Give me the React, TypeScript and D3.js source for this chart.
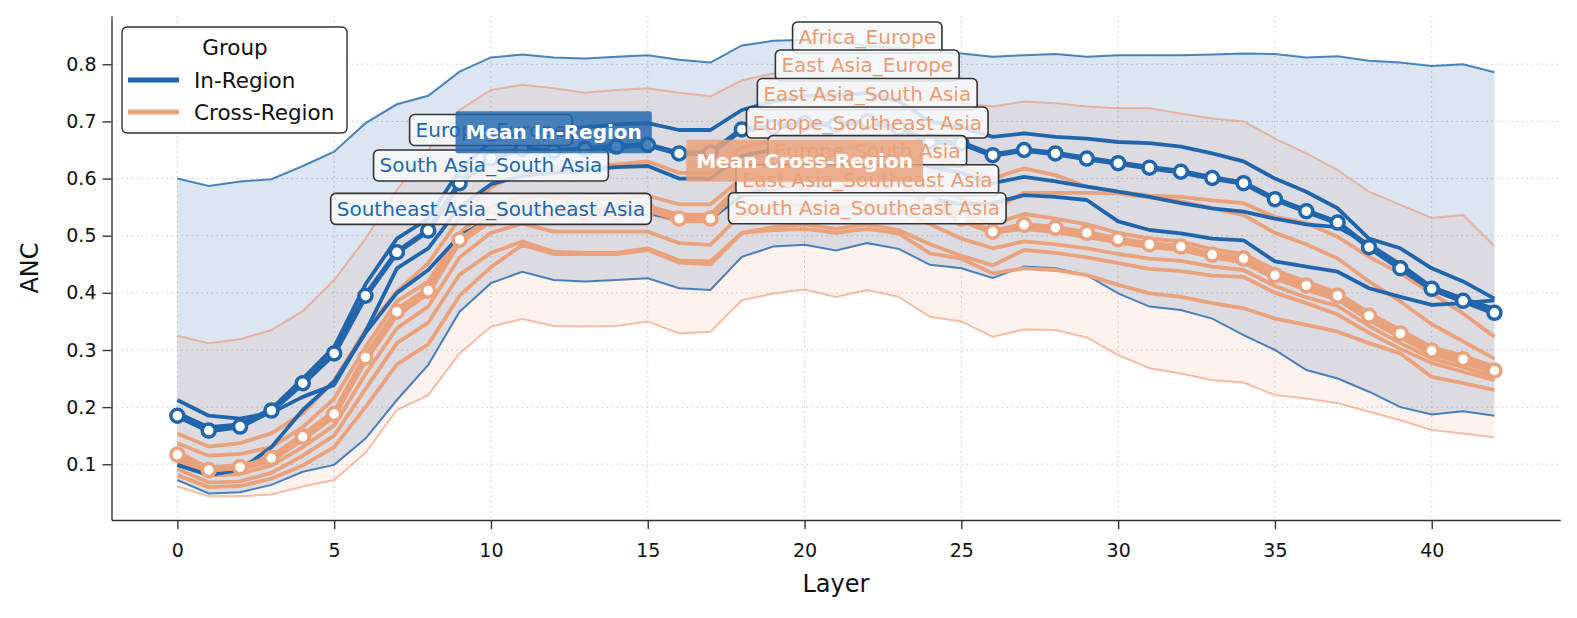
import React, { useRef, useEffect } from 'react';
import * as d3 from 'd3';

// layer index on the x axis
const layers = [0, 1, 2, 3, 4, 5, 6, 7, 8, 9, 10, 11, 12, 13, 14, 15, 16, 17, 18, 19, 20, 21, 22, 23, 24, 25, 26, 27, 28, 29, 30, 31, 32, 33, 34, 35, 36, 37, 38, 39, 40, 41, 42];

const xTicks = [0, 5, 10, 15, 20, 25, 30, 35, 40];
const yTicks = [0.1, 0.2, 0.3, 0.4, 0.5, 0.6, 0.7, 0.8];

// group means
const meanIn = [0.185, 0.159, 0.166, 0.194, 0.242, 0.294, 0.395, 0.471, 0.509, 0.592, 0.635, 0.652, 0.648, 0.652, 0.656, 0.659, 0.644, 0.645, 0.686, 0.690, 0.697, 0.694, 0.700, 0.688, 0.665, 0.662, 0.641, 0.650, 0.644, 0.635, 0.627, 0.619, 0.612, 0.601, 0.592, 0.564, 0.543, 0.523, 0.480, 0.443, 0.407, 0.386, 0.365];
const meanCross = [0.117, 0.090, 0.095, 0.111, 0.148, 0.188, 0.287, 0.367, 0.404, 0.493, 0.530, 0.548, 0.543, 0.540, 0.540, 0.545, 0.530, 0.530, 0.585, 0.590, 0.592, 0.590, 0.595, 0.586, 0.560, 0.530, 0.507, 0.519, 0.514, 0.505, 0.494, 0.485, 0.481, 0.467, 0.460, 0.431, 0.413, 0.395, 0.360, 0.329, 0.299, 0.284, 0.264];

// band edges
const inUpper = [0.600, 0.587, 0.595, 0.599, 0.622, 0.647, 0.697, 0.730, 0.745, 0.787, 0.812, 0.817, 0.812, 0.810, 0.813, 0.816, 0.808, 0.803, 0.833, 0.841, 0.843, 0.840, 0.832, 0.828, 0.823, 0.819, 0.813, 0.816, 0.818, 0.813, 0.816, 0.816, 0.816, 0.817, 0.819, 0.818, 0.812, 0.814, 0.806, 0.803, 0.797, 0.800, 0.786];
const inLower = [0.0725, 0.049, 0.051, 0.064, 0.087, 0.099, 0.145, 0.2125, 0.274, 0.367, 0.417, 0.437, 0.4225, 0.420, 0.4225, 0.4255, 0.408, 0.405, 0.463, 0.481, 0.484, 0.474, 0.487, 0.477, 0.449, 0.443, 0.426, 0.446, 0.443, 0.431, 0.399, 0.376, 0.370, 0.355, 0.326, 0.300, 0.265, 0.250, 0.227, 0.200, 0.187, 0.193, 0.185];
const crossUpper = [0.325, 0.312, 0.319, 0.335, 0.368, 0.4225, 0.495, 0.580, 0.650, 0.720, 0.755, 0.764, 0.758, 0.750, 0.755, 0.758, 0.750, 0.744, 0.772, 0.784, 0.785, 0.790, 0.785, 0.770, 0.750, 0.732, 0.726, 0.735, 0.732, 0.726, 0.723, 0.723, 0.714, 0.705, 0.700, 0.670, 0.644, 0.615, 0.577, 0.554, 0.531, 0.536, 0.482];
const crossLower = [0.061, 0.044, 0.044, 0.047, 0.061, 0.0725, 0.120, 0.195, 0.221, 0.294, 0.341, 0.354, 0.342, 0.341, 0.342, 0.350, 0.329, 0.332, 0.387, 0.399, 0.406, 0.393, 0.405, 0.393, 0.358, 0.350, 0.323, 0.336, 0.335, 0.322, 0.291, 0.268, 0.259, 0.247, 0.243, 0.221, 0.215, 0.207, 0.192, 0.177, 0.160, 0.154, 0.147];

// in-region pairs
const europeEurope = [0.190, 0.165, 0.170, 0.197, 0.250, 0.305, 0.415, 0.495, 0.530, 0.615, 0.665, 0.685, 0.685, 0.690, 0.695, 0.697, 0.685, 0.685, 0.720, 0.735, 0.745, 0.745, 0.750, 0.735, 0.700, 0.690, 0.673, 0.679, 0.673, 0.670, 0.664, 0.662, 0.656, 0.644, 0.630, 0.600, 0.577, 0.548, 0.495, 0.478, 0.443, 0.420, 0.390];
const southAsiaSouthAsia = [0.2125, 0.185, 0.180, 0.190, 0.218, 0.239, 0.332, 0.443, 0.478, 0.550, 0.590, 0.605, 0.610, 0.615, 0.620, 0.622, 0.600, 0.600, 0.640, 0.650, 0.655, 0.650, 0.660, 0.645, 0.620, 0.610, 0.592, 0.603, 0.595, 0.586, 0.577, 0.568, 0.557, 0.548, 0.542, 0.530, 0.520, 0.515, 0.485, 0.450, 0.410, 0.390, 0.372];
const seAsiaSeAsia = [0.099, 0.081, 0.090, 0.130, 0.195, 0.245, 0.330, 0.400, 0.440, 0.500, 0.530, 0.545, 0.540, 0.538, 0.538, 0.540, 0.530, 0.530, 0.570, 0.585, 0.590, 0.585, 0.595, 0.585, 0.565, 0.555, 0.557, 0.571, 0.568, 0.5625, 0.525, 0.510, 0.504, 0.495, 0.492, 0.455, 0.446, 0.437, 0.408, 0.393, 0.379, 0.382, 0.387];

// cross-region pairs
const africaEurope = [0.154, 0.131, 0.137, 0.154, 0.189, 0.247, 0.335, 0.402, 0.452, 0.530, 0.585, 0.610, 0.615, 0.620, 0.625, 0.630, 0.610, 0.610, 0.655, 0.665, 0.670, 0.665, 0.675, 0.665, 0.640, 0.620, 0.600, 0.618, 0.606, 0.586, 0.577, 0.570, 0.568, 0.562, 0.557, 0.533, 0.522, 0.498, 0.463, 0.434, 0.399, 0.364, 0.323];
const eastAsiaEurope = [0.137, 0.115, 0.118, 0.130, 0.165, 0.215, 0.305, 0.385, 0.420, 0.505, 0.550, 0.570, 0.568, 0.565, 0.565, 0.570, 0.555, 0.555, 0.600, 0.610, 0.615, 0.610, 0.620, 0.610, 0.585, 0.565, 0.545, 0.575, 0.575, 0.575, 0.574, 0.567, 0.560, 0.548, 0.536, 0.505, 0.485, 0.460, 0.420, 0.385, 0.345, 0.315, 0.285];
const eastAsiaSouthAsia = [0.122, 0.094, 0.099, 0.115, 0.152, 0.193, 0.292, 0.372, 0.408, 0.497, 0.535, 0.555, 0.550, 0.548, 0.548, 0.552, 0.537, 0.537, 0.592, 0.597, 0.600, 0.597, 0.602, 0.592, 0.567, 0.540, 0.520, 0.538, 0.530, 0.520, 0.505, 0.495, 0.490, 0.476, 0.468, 0.440, 0.420, 0.400, 0.365, 0.335, 0.305, 0.290, 0.271];
const europeSeAsia = [0.112, 0.086, 0.090, 0.106, 0.143, 0.183, 0.280, 0.360, 0.398, 0.487, 0.525, 0.545, 0.538, 0.535, 0.535, 0.540, 0.525, 0.525, 0.580, 0.585, 0.588, 0.585, 0.590, 0.580, 0.555, 0.525, 0.505, 0.512, 0.506, 0.498, 0.488, 0.480, 0.475, 0.462, 0.453, 0.425, 0.405, 0.388, 0.352, 0.322, 0.292, 0.278, 0.260];
const europeSouthAsia = [0.105, 0.080, 0.083, 0.098, 0.130, 0.168, 0.258, 0.338, 0.376, 0.462, 0.505, 0.521, 0.507, 0.507, 0.507, 0.507, 0.487, 0.484, 0.539, 0.550, 0.555, 0.548, 0.555, 0.545, 0.520, 0.495, 0.478, 0.490, 0.485, 0.478, 0.468, 0.460, 0.456, 0.446, 0.440, 0.412, 0.392, 0.377, 0.342, 0.312, 0.285, 0.270, 0.253];
const eastAsiaSeAsia = [0.092, 0.068, 0.070, 0.085, 0.115, 0.150, 0.232, 0.312, 0.348, 0.432, 0.470, 0.490, 0.472, 0.470, 0.470, 0.478, 0.457, 0.455, 0.505, 0.515, 0.520, 0.512, 0.520, 0.510, 0.485, 0.465, 0.448, 0.475, 0.470, 0.462, 0.452, 0.442, 0.438, 0.430, 0.428, 0.400, 0.382, 0.362, 0.330, 0.302, 0.277, 0.262, 0.247];
const southAsiaSeAsia = [0.081, 0.060, 0.062, 0.075, 0.098, 0.130, 0.200, 0.275, 0.310, 0.395, 0.445, 0.484, 0.468, 0.468, 0.468, 0.475, 0.453, 0.450, 0.505, 0.510, 0.512, 0.505, 0.512, 0.504, 0.469, 0.460, 0.434, 0.443, 0.440, 0.431, 0.414, 0.399, 0.393, 0.382, 0.373, 0.355, 0.344, 0.332, 0.312, 0.294, 0.253, 0.242, 0.230];

const inNames = ['Europe_Europe', 'South Asia_South Asia', 'Southeast Asia_Southeast Asia'];
const inSeries = [europeEurope, southAsiaSouthAsia, seAsiaSeAsia];
const crossNames = ['Africa_Europe', 'East Asia_Europe', 'East Asia_South Asia', 'Europe_Southeast Asia', 'Europe_South Asia', 'East Asia_Southeast Asia', 'South Asia_Southeast Asia'];
const crossSeries = [africaEurope, eastAsiaEurope, eastAsiaSouthAsia, europeSeAsia, europeSouthAsia, eastAsiaSeAsia, southAsiaSeAsia];

// annotation anchors (layer, ANC)
const inLabelLayer = 10;
const inLabelValues = [0.685, 0.623, 0.547];
const crossLabelLayer = 22;
const crossLabelValues = [0.847, 0.798, 0.748, 0.698, 0.648, 0.597, 0.548];
const meanInLabelAt = [12, 0.681];
const meanCrossLabelAt = [20, 0.631];

const BLUE = '#2166ac';
const ORANGE = '#ef8a62';
const ORANGE_LINE = '#e9a27c';
const ORANGE_TEXT = '#eb9b72';
const FONT = 'DejaVu Sans, sans-serif';

const W = 1577;
const H = 618;

const LayerChart: React.FC = () => {
  const svgRef = useRef<SVGSVGElement | null>(null);

  useEffect(() => {
    if (!svgRef.current) return;
    const svg = d3.select(svgRef.current);
    svg.selectAll('*').remove();

    const x = d3.scaleLinear().domain([-2.1, 44.1]).range([111.5, 1560.3]);
    const y = d3.scaleLinear().domain([0.0025, 0.8845]).range([520, 16]);
    const [yBottom, yTop] = y.range();
    const [xLeft, xRight] = x.range();

    // grid
    const grid = svg.append('g');
    xTicks.forEach((t) => {
      grid.append('line')
        .attr('x1', x(t)).attr('x2', x(t)).attr('y1', yTop).attr('y2', yBottom)
        .attr('stroke', '#c8c8c8').attr('stroke-width', 1).attr('stroke-dasharray', '1.5,3.5');
    });
    yTicks.forEach((t) => {
      grid.append('line')
        .attr('x1', xLeft).attr('x2', xRight).attr('y1', y(t)).attr('y2', y(t))
        .attr('stroke', '#c8c8c8').attr('stroke-width', 1).attr('stroke-dasharray', '1.5,3.5');
    });

    const band = (lo: number[], hi: number[]) =>
      d3.area<number>()
        .x((d) => x(d))
        .y0((_, i) => y(lo[i]))
        .y1((_, i) => y(hi[i]))(layers);

    const line = d3.line<number>()
      .x((_, i) => x(layers[i]))
      .y((d) => y(d));

    // bands
    svg.append('path').attr('d', band(inLower, inUpper)).attr('fill', BLUE).attr('fill-opacity', 0.16);
    svg.append('path').attr('d', band(crossLower, crossUpper)).attr('fill', ORANGE).attr('fill-opacity', 0.11);

    [inUpper, inLower].forEach((s) => {
      svg.append('path').attr('d', line(s)).attr('fill', 'none')
        .attr('stroke', BLUE).attr('stroke-opacity', 0.8).attr('stroke-width', 2);
    });
    [crossUpper, crossLower].forEach((s) => {
      svg.append('path').attr('d', line(s)).attr('fill', 'none')
        .attr('stroke', ORANGE).attr('stroke-opacity', 0.55).attr('stroke-width', 2);
    });

    // individual pairs
    crossSeries.forEach((s) => {
      svg.append('path').attr('d', line(s)).attr('fill', 'none')
        .attr('stroke', ORANGE_LINE).attr('stroke-width', 3.8).attr('stroke-linejoin', 'round');
    });
    inSeries.forEach((s) => {
      svg.append('path').attr('d', line(s)).attr('fill', 'none')
        .attr('stroke', BLUE).attr('stroke-width', 3.8).attr('stroke-linejoin', 'round');
    });

    // means with markers
    const drawMean = (s: number[], color: string) => {
      svg.append('path').attr('d', line(s)).attr('fill', 'none')
        .attr('stroke', color).attr('stroke-width', 5.5).attr('stroke-linejoin', 'round');
      svg.append('g').selectAll('circle').data(s).join('circle')
        .attr('cx', (_, i) => x(layers[i]))
        .attr('cy', (d) => y(d))
        .attr('r', 6.5)
        .attr('fill', 'white')
        .attr('stroke', color)
        .attr('stroke-width', 3.5);
    };
    drawMean(meanCross, ORANGE_LINE);
    drawMean(meanIn, BLUE);

    // axes
    const xAxis = d3.axisBottom(x).tickValues(xTicks).tickSize(9).tickPadding(15).tickSizeOuter(0);
    const yAxis = d3.axisLeft(y).tickValues(yTicks).tickSize(9).tickPadding(6).tickSizeOuter(0)
      .tickFormat(d3.format('.1f'));

    const styleAxis = (g: d3.Selection<SVGGElement, unknown, null, undefined>) => {
      g.attr('font-family', FONT).attr('font-size', 19);
      g.select('.domain').attr('stroke', '#333').attr('stroke-width', 1.4);
      g.selectAll('.tick line').attr('stroke', '#333').attr('stroke-width', 1.4);
      g.selectAll('.tick text').attr('fill', '#111');
    };

    svg.append('g').attr('transform', `translate(0,${yBottom})`).call(xAxis).call(styleAxis);
    svg.append('g').attr('transform', `translate(${xLeft},0)`).call(yAxis).call(styleAxis);

    svg.append('text')
      .attr('x', (xLeft + xRight) / 2).attr('y', 592)
      .attr('text-anchor', 'middle').attr('font-family', FONT).attr('font-size', 24)
      .attr('fill', '#111').text('Layer');
    svg.append('text')
      .attr('transform', `translate(38,${(yTop + yBottom) / 2}) rotate(-90)`)
      .attr('text-anchor', 'middle').attr('font-family', FONT).attr('font-size', 24)
      .attr('fill', '#111').text('ANC');

    // labels
    const addLabel = (
      text: string, lx: number, ly: number, color: string,
      opts: { bold?: boolean; fill: string; fillOpacity: number; stroke: string; padX: number; h: number }
    ) => {
      const g = svg.append('g');
      const rect = g.append('rect');
      const t = g.append('text')
        .attr('x', x(lx)).attr('y', y(ly))
        .attr('text-anchor', 'middle').attr('dominant-baseline', 'central')
        .attr('font-family', FONT).attr('font-size', 20)
        .attr('font-weight', opts.bold ? 'bold' : 'normal')
        .attr('fill', color).text(text);
      const w = (t.node() as SVGTextElement).getComputedTextLength() + 2 * opts.padX;
      rect.attr('x', x(lx) - w / 2).attr('y', y(ly) - opts.h / 2)
        .attr('width', w).attr('height', opts.h).attr('rx', opts.bold ? 2 : 5)
        .attr('fill', opts.fill).attr('fill-opacity', opts.fillOpacity)
        .attr('stroke', opts.stroke).attr('stroke-width', opts.bold ? 0 : 1.6);
    };

    const plainBox = { fill: '#f7f9fc', fillOpacity: 0.85, stroke: '#333', padX: 6, h: 31 };
    inNames.forEach((n, i) => addLabel(n, inLabelLayer, inLabelValues[i], BLUE, plainBox));
    crossNames.forEach((n, i) => addLabel(n, crossLabelLayer, crossLabelValues[i], ORANGE_TEXT, plainBox));

    addLabel('Mean In-Region', meanInLabelAt[0], meanInLabelAt[1], 'white',
      { bold: true, fill: BLUE, fillOpacity: 0.82, stroke: 'none', padX: 10, h: 42 });
    addLabel('Mean Cross-Region', meanCrossLabelAt[0], meanCrossLabelAt[1], 'white',
      { bold: true, fill: ORANGE_LINE, fillOpacity: 0.85, stroke: 'none', padX: 10, h: 42 });

    // legend
    const lg = svg.append('g');
    lg.append('rect').attr('x', 122).attr('y', 27).attr('width', 225).attr('height', 106).attr('rx', 5)
      .attr('fill', 'white').attr('fill-opacity', 0.9).attr('stroke', '#333').attr('stroke-width', 1.4);
    lg.append('text').attr('x', 235).attr('y', 47).attr('text-anchor', 'middle')
      .attr('dominant-baseline', 'central').attr('font-family', FONT).attr('font-size', 21.5)
      .attr('fill', '#111').text('Group');
    [['In-Region', BLUE, 80], ['Cross-Region', ORANGE_LINE, 112]].forEach(([name, color, ly]) => {
      lg.append('line').attr('x1', 128).attr('x2', 179).attr('y1', ly as number).attr('y2', ly as number)
        .attr('stroke', color as string).attr('stroke-width', 5);
      lg.append('text').attr('x', 194).attr('y', ly as number).attr('dominant-baseline', 'central')
        .attr('font-family', FONT).attr('font-size', 21.5).attr('fill', '#111').text(name as string);
    });
  }, []);

  return (
    <svg ref={svgRef} width={W} height={H}
      style={{ position: 'absolute', left: 0, top: 0, background: 'white' }} />
  );
};

export default function App() {
  return <LayerChart />;
}
